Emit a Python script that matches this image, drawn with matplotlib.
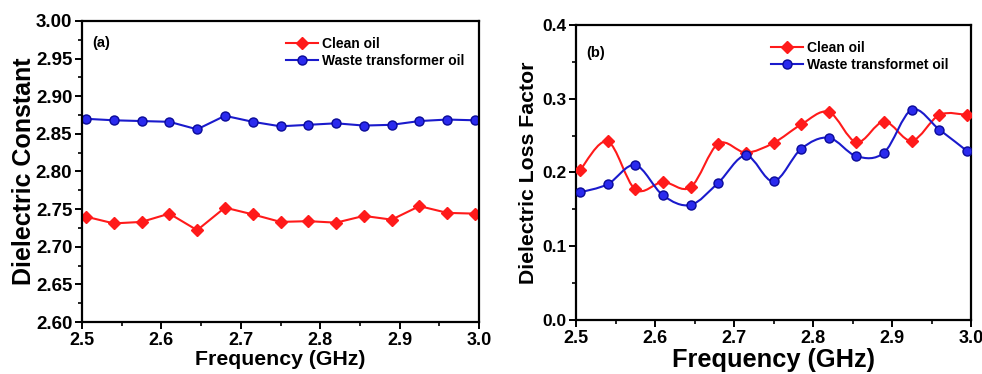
import numpy as np
import matplotlib
matplotlib.use("Agg")
import matplotlib.pyplot as plt
from matplotlib.path import Path
from matplotlib.patches import PathPatch
from matplotlib.ticker import MultipleLocator

plt.rcParams['font.family'] = ['Liberation Sans', 'DejaVu Sans']
plt.rcParams['font.weight'] = 'bold'

freq = [2.505, 2.540, 2.575, 2.610, 2.645, 2.680, 2.715, 2.750,
        2.785, 2.820, 2.855, 2.890, 2.925, 2.960, 2.995]

const_clean = [2.740, 2.731, 2.733, 2.744, 2.722, 2.752, 2.743, 2.733,
               2.734, 2.732, 2.741, 2.736, 2.754, 2.745, 2.744]
const_waste = [2.870, 2.868, 2.867, 2.866, 2.856, 2.874, 2.866, 2.860,
               2.862, 2.864, 2.861, 2.862, 2.867, 2.869, 2.868]

loss_clean = [0.203, 0.242, 0.177, 0.187, 0.180, 0.239, 0.227, 0.240,
              0.265, 0.282, 0.241, 0.269, 0.243, 0.278, 0.278]
loss_waste = [0.173, 0.184, 0.210, 0.169, 0.156, 0.186, 0.223, 0.188,
              0.232, 0.247, 0.222, 0.227, 0.285, 0.258, 0.229]

labels_a = ['Clean oil', 'Waste transformer oil']
labels_b = ['Clean oil', 'Waste transformet oil']

RED = '#ff1a1a'
BLUE = '#1a1acc'

fig = plt.figure(figsize=(9.82, 3.74), dpi=100)
ax1 = fig.add_axes([0.0835, 0.139, 0.4043, 0.805])
ax2 = fig.add_axes([0.5866, 0.1444, 0.4022, 0.789])


def style(ax):
    for s in ax.spines.values():
        s.set_linewidth(1.6)
    ax.tick_params(which='major', direction='out', length=5, width=1.4,
                   top=False, right=False, pad=2)
    ax.tick_params(which='minor', direction='out', length=3, width=1.2,
                   top=False, right=False)
    ax.xaxis.set_minor_locator(MultipleLocator(0.05))


def smooth_path(ax, x, y, color):
    x = np.asarray(x, float)
    y = np.asarray(y, float)
    n = len(x)
    verts = [(x[0], y[0])]
    codes = [Path.MOVETO]
    for i in range(n - 1):
        p0 = (x[max(i - 1, 0)], y[max(i - 1, 0)])
        p1 = (x[i], y[i])
        p2 = (x[i + 1], y[i + 1])
        p3 = (x[min(i + 2, n - 1)], y[min(i + 2, n - 1)])
        c1 = (p1[0] + (p2[0] - p0[0]) / 6, p1[1] + (p2[1] - p0[1]) / 6)
        c2 = (p2[0] - (p3[0] - p1[0]) / 6, p2[1] - (p3[1] - p1[1]) / 6)
        verts += [c1, c2, p2]
        codes += [Path.CURVE4] * 3
    patch = PathPatch(Path(verts, codes), facecolor='none', edgecolor=color,
                      lw=1.5, transform=ax.transData, zorder=2)
    ax.add_patch(patch)


# Panel (a)
ax1.plot(freq, const_clean, '-', color=RED, marker='D', ms=6.5,
         mfc=RED, mec=RED, lw=1.5, label=labels_a[0])
ax1.plot(freq, const_waste, '-', color=BLUE, marker='o', ms=6.5,
         mfc='#2a2aee', mec='#0a0a99', lw=1.5, label=labels_a[1])
ax1.set_xlim(2.5, 3.0)
ax1.set_ylim(2.60, 3.00)
ax1.yaxis.set_major_locator(MultipleLocator(0.05))
ax1.yaxis.set_minor_locator(MultipleLocator(0.025))
ax1.xaxis.set_major_locator(MultipleLocator(0.1))
style(ax1)
ax1.set_yticks(ax1.get_yticks())
ax1.set_yticklabels([f'{v:.2f}' for v in ax1.get_yticks()], fontsize=13.5, fontweight='bold')
ax1.set_ylim(2.60, 3.00)
ax1.set_xticks(ax1.get_xticks())
ax1.set_xticklabels([f'{v:.1f}' for v in ax1.get_xticks()], fontsize=13, fontweight='bold')
ax1.set_xlim(2.5, 3.0)
ax1.set_xlabel('Frequency (GHz)', fontsize=15.3, fontweight='bold', labelpad=1)
ax1.set_ylabel('Dielectric Constant', fontsize=18, fontweight='bold', labelpad=0)
ax1.text(0.025, 0.927, '(a)', transform=ax1.transAxes, fontsize=10.5,
         fontweight='bold', va='center')
ax1.legend(loc='upper right', bbox_to_anchor=(0.985, 0.975), frameon=False,
           prop={'size': 10, 'weight': 'bold'}, handlelength=2.3,
           handletextpad=0.3, labelspacing=0.25, borderaxespad=0.2)

# Panel (b)
smooth_path(ax2, freq, loss_clean, RED)
smooth_path(ax2, freq, loss_waste, BLUE)
ax2.plot(freq, loss_clean, ls='none', marker='D', ms=6.5, mfc=RED, mec=RED,
         zorder=3)
ax2.plot(freq, loss_waste, ls='none', marker='o', ms=6.5, mfc='#2a2aee',
         mec='#0a0a99', zorder=3)
h1, = ax2.plot([], [], '-', color=RED, marker='D', ms=6.5, mfc=RED, mec=RED,
               lw=1.5, label=labels_b[0])
h2, = ax2.plot([], [], '-', color=BLUE, marker='o', ms=6.5, mfc='#2a2aee',
               mec='#0a0a99', lw=1.5, label=labels_b[1])
ax2.set_xlim(2.5, 3.0)
ax2.set_ylim(0.0, 0.4)
ax2.yaxis.set_major_locator(MultipleLocator(0.1))
ax2.yaxis.set_minor_locator(MultipleLocator(0.05))
ax2.xaxis.set_major_locator(MultipleLocator(0.1))
style(ax2)
ax2.set_yticks(ax2.get_yticks())
ax2.set_yticklabels([f'{v:.1f}' for v in ax2.get_yticks()], fontsize=12.5, fontweight='bold')
ax2.set_ylim(0.0, 0.4)
ax2.set_xticks(ax2.get_xticks())
ax2.set_xticklabels([f'{v:.1f}' for v in ax2.get_xticks()], fontsize=13, fontweight='bold')
ax2.set_xlim(2.5, 3.0)
ax2.set_xlabel('Frequency (GHz)', fontsize=18.3, fontweight='bold', labelpad=1)
ax2.set_ylabel('Dielectric Loss Factor', fontsize=15.3, fontweight='bold', labelpad=3)
ax2.text(0.025, 0.905, '(b)', transform=ax2.transAxes, fontsize=10.5,
         fontweight='bold', va='center')
ax2.legend(handles=[h1, h2], loc='upper right', bbox_to_anchor=(0.965, 0.975),
           frameon=False, prop={'size': 10, 'weight': 'bold'}, handlelength=2.3,
           handletextpad=0.3, labelspacing=0.25, borderaxespad=0.2)

fig.savefig('out.png', dpi=100)
